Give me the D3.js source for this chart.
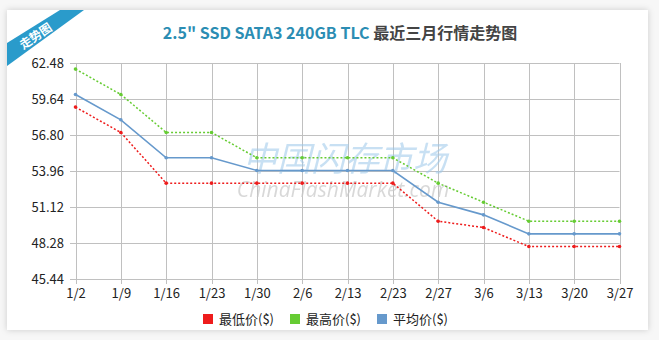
<!DOCTYPE html>
<html>
<head>
<meta charset="utf-8">
<script src="https://cdn.jsdelivr.net/npm/d3@7"></script>
<style>
  html, body { margin: 0; padding: 0; background: #f4f4f4; }
  svg { display: block; font-family: "Noto Sans CJK SC", "Open Sans", sans-serif; }
</style>
</head>
<body>
<svg id="chart" width="659" height="340"></svg>
<script>
// Weekly price points
const dates = ["1/2","1/9","1/16","1/23","1/30","2/6","2/13","2/23","2/27","3/6","3/13","3/20","3/27"];
const minPrice = [59, 57, 53, 53, 53, 53, 53, 53, 50, 49.5, 48, 48, 48];
const maxPrice = [62, 60, 57, 57, 55, 55, 55, 55, 53, 51.5, 50, 50, 50];
const avgPrice = [60, 58, 55, 55, 54, 54, 54, 54, 51.5, 50.5, 49, 49, 49];
const yTicks = [45.44, 48.28, 51.12, 53.96, 56.80, 59.64, 62.48];
const seriesNames = ["最低价($)", "最高价($)", "平均价($)"];
const seriesColors = ["#ee1c1c", "#66cc33", "#6699cc"];

const svg = d3.select("#chart");

// card with soft shadow
const defs = svg.append("defs");
const f = defs.append("filter").attr("id", "shadow").attr("x", "-5%").attr("y", "-5%").attr("width", "110%").attr("height", "110%");
f.append("feDropShadow").attr("dx", 0).attr("dy", 0).attr("stdDeviation", 3).attr("flood-color", "#000").attr("flood-opacity", 0.18);
svg.append("rect").attr("width", 659).attr("height", 340).attr("fill", "#f7f7f7");
svg.append("rect").attr("x", 7).attr("y", 10).attr("width", 641).attr("height", 320)
  .attr("fill", "#fff").attr("filter", "url(#shadow)");

// corner ribbon
svg.append("polygon").attr("points", "60,10 84,10 7,66 7,43").attr("fill", "#2a9bcb");
svg.append("text").attr("transform", "translate(35,35) rotate(-34)")
  .attr("text-anchor", "middle").attr("dominant-baseline", "central")
  .attr("fill", "#fff").attr("font-size", 12).attr("font-weight", "bold").text("走势图");

// title
const title = svg.append("text").attr("x", 340).attr("y", 39).attr("text-anchor", "middle")
  .attr("font-size", 16).attr("font-weight", "bold");
title.append("tspan").attr("fill", "#2b8db3").text("2.5\" SSD SATA3 240GB TLC ");
title.append("tspan").attr("fill", "#444").text("最近三月行情走势图");

const x = d3.scalePoint().domain(dates).range([75.5, 619.5]);
const y = d3.scaleLinear().domain([45.44, 62.48]).range([279, 63]);

// grid
const grid = svg.append("g");
grid.selectAll(".h").data(yTicks).join("line")
  .attr("x1", 70).attr("x2", 619.5).attr("y1", d => Math.round(y(d)) + 0.5).attr("y2", d => Math.round(y(d)) + 0.5)
  .attr("stroke", "#c0c0c0");
grid.selectAll(".v").data(dates).join("line")
  .attr("x1", d => Math.round(x(d)) + 0.5).attr("x2", d => Math.round(x(d)) + 0.5)
  .attr("y1", 63).attr("y2", 284).attr("stroke", "#c0c0c0");

// axes labels
const yAxis = d3.axisLeft(y).tickValues(yTicks).tickFormat(d3.format(".2f")).tickSize(0).tickPadding(6);
const ya = svg.append("g").attr("transform", "translate(70,0)").call(yAxis);
ya.select(".domain").remove();
ya.selectAll("text").attr("font-size", 13).attr("fill", "#222").attr("font-family", "\"Noto Sans CJK SC\", sans-serif");

const xAxis = d3.axisBottom(x).tickSize(0).tickPadding(5);
const xa = svg.append("g").attr("transform", "translate(0,284)").call(xAxis);
xa.select(".domain").remove();
xa.selectAll("text").attr("font-size", 13).attr("fill", "#222").attr("font-family", "\"Noto Sans CJK SC\", sans-serif");

// watermark
svg.append("text").attr("x", 345).attr("y", 171).attr("text-anchor", "middle")
  .attr("font-size", 34).attr("font-style", "italic").attr("fill", "#9cc8ea").attr("opacity", 0.55)
  .text("中国闪存市场");
svg.append("text").attr("x", 343).attr("y", 197).attr("text-anchor", "middle")
  .attr("font-size", 21).attr("font-style", "italic").attr("fill", "#c8c8c8").attr("opacity", 0.7)
  .attr("font-family", "\"Open Sans\", sans-serif")
  .text("ChinaFlashMarket.com");

// series
const series = [minPrice, maxPrice, avgPrice];
const line = d3.line().x((d, i) => x(dates[i])).y(d => y(d));
series.forEach((vals, k) => {
  svg.append("path").datum(vals).attr("d", line).attr("fill", "none")
    .attr("stroke", seriesColors[k]).attr("stroke-width", k === 2 ? 1.6 : 1.5)
    .attr("stroke-dasharray", k === 2 ? null : "2,2");
  svg.append("g").selectAll("circle").data(vals).join("circle")
    .attr("cx", (d, i) => x(dates[i])).attr("cy", d => y(d)).attr("r", 1.8)
    .attr("fill", seriesColors[k]);
});

// legend
const legendX = [203, 290, 377];
const lg = svg.append("g");
seriesNames.forEach((n, k) => {
  lg.append("rect").attr("x", legendX[k]).attr("y", 314).attr("width", 10).attr("height", 10).attr("fill", seriesColors[k]);
  lg.append("text").attr("x", legendX[k] + 16).attr("y", 324).attr("font-size", 13).attr("fill", "#222").text(n);
});
</script>
</body>
</html>
